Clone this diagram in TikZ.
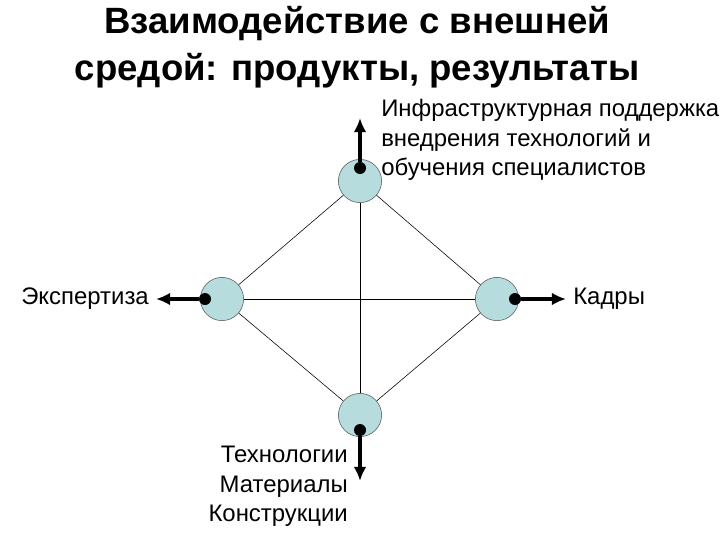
\documentclass[tikz,border=0pt]{standalone}
\usepackage{fontspec}
\setmainfont{Liberation Sans}
\usetikzlibrary{arrows.meta,positioning}
\definecolor{hubfill}{RGB}{182,220,222}

\begin{document}
\begin{tikzpicture}[x=0.025cm,y=-0.025cm,>={Latex[length=10pt,width=9pt]}]
	\tikzset{hub/.style={circle,draw=black!65,fill=hubfill,minimum size=1.08cm,inner sep=0pt,thin},
		dot/.style={circle,fill=black,minimum size=0.3cm,inner sep=0pt},
		outarrow/.style={line width=3.5pt,->},
		lbl/.style={font=\fontsize{17}{21}\selectfont,inner sep=0pt}}
	\useasboundingbox (0,0) rectangle (720,540);

	% title
	\node[align=center,font=\bfseries\fontsize{26}{33}\selectfont] (title) at (357,47)
		{Взаимодействие с внешней\\средой: продукты, результаты};

	% hubs
	\node[hub] (infra) at (360,181) {};
	\node[hub] (expert) at (222,299) {};
	\node[hub] (kadry) at (497,299) {};
	\node[hub] (tech) at (360,415) {};

	% lines
	\path[draw,thin,black]
		(infra) edge (expert)
		(infra) edge (kadry)
		(infra) edge (tech)
		(expert) edge (tech)
		(kadry) edge (tech)
		(expert) edge (kadry);

	% outputs
	\node[dot] (infradot) at (360,168) {};
	\node[dot] (expertdot) at (205,299) {};
	\node[dot] (kadrydot) at (515,299) {};
	\node[dot] (techdot) at (360,430) {};
	\coordinate (infraend) at (360,118);
	\coordinate (expertend) at (156,299);
	\coordinate (kadryend) at (566,299);
	\coordinate (techend) at (360,481);
	\draw[outarrow] (infradot) -- (infraend);
	\draw[outarrow] (expertdot) -- (expertend);
	\draw[outarrow] (kadrydot) -- (kadryend);
	\draw[outarrow] (techdot) -- (techend);

	% labels
	\node[lbl,align=left,anchor=north west] (infratext) at (381,99)
		{Инфраструктурная поддержка\\внедрения технологий и\\обучения специалистов};
	\node[lbl,anchor=east] (experttext) at (149,299) {Экспертиза};
	\node[lbl,anchor=west] (kadrytext) at (573,299) {Кадры};
	\node[lbl,align=right,anchor=north east] (techtext) at (348,446)
		{Технологии\\Материалы\\Конструкции};
\end{tikzpicture}
\end{document}
